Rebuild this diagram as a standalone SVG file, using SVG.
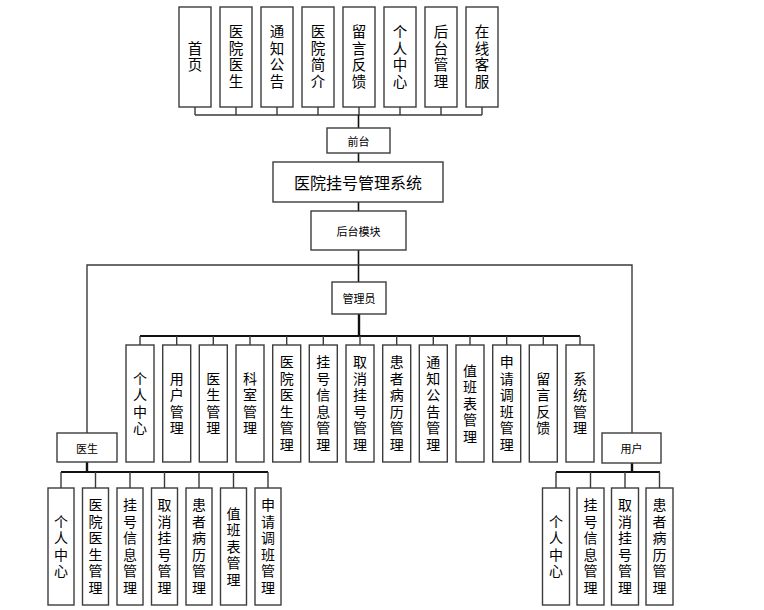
<svg xmlns="http://www.w3.org/2000/svg" width="764" height="610" viewBox="0 0 764 610">
<style>
.b{fill:#fff;stroke:#3c3c3c;stroke-width:1.4}
.c{fill:none;stroke:#3a3a3a;stroke-width:1.4}
.t{stroke:#111;stroke-width:2.4;fill:none}
text{font-family:"Noto Sans CJK SC","Noto Sans",sans-serif;fill:#000;text-anchor:middle;dominant-baseline:central}
.v,.vt{font-family:"Liberation Sans","Noto Sans CJK SC",sans-serif}
.v{font-size:14px}
.vt{font-size:14.5px}
.s{font-size:11px}
</style>
<rect width="764" height="610" fill="#fff"/>
<g id="connectors">
<path class="c" d="M195 107V115M236 107V115M277 107V115M318 107V115M359 107V115M400 107V115M441 107V115M482 107V115M195 115H482"/>
<path class="t" d="M358.5 115V128M358.5 153V162M358.5 202V211M358.5 250V282" style="stroke-width:1.6"/>
<path class="c" d="M87 433V265H632V433"/>
<path class="t" d="M359 314V336"/>
<path class="t" d="M140 336H580" style="stroke-width:2"/>
<path class="c" d="M140 336V345M176.7 336V345M213.3 336V345M250 336V345M286.7 336V345M323.3 336V345M360 336V345M396.7 336V345M433.3 336V345M470 336V345M506.7 336V345M543.3 336V345M580 336V345"/>
<path class="t" d="M87 462V472M632 463V472"/>
<path class="t" d="M61 472H268M556 472H660" style="stroke-width:2"/>
<path class="c" d="M61 472V488M95.5 472V488M130 472V488M164.5 472V488M199 472V488M233.5 472V488M268 472V488"/>
<path class="c" d="M556 472V488M590.5 472V488M625 472V488M659.5 472V488"/>
</g>
<g id="top1"><rect class="b" x="179" y="7" width="32" height="100"/><text class="vt" x="195"><tspan x="195" y="48.65">首</tspan><tspan x="195" y="65.35">页</tspan></text></g>
<g id="top2"><rect class="b" x="220" y="7" width="32" height="100"/><text class="vt"><tspan x="236" y="31.95">医</tspan><tspan x="236" y="48.65">院</tspan><tspan x="236" y="65.35">医</tspan><tspan x="236" y="82.05">生</tspan></text></g>
<g id="top3"><rect class="b" x="261" y="7" width="32" height="100"/><text class="vt"><tspan x="277" y="31.95">通</tspan><tspan x="277" y="48.65">知</tspan><tspan x="277" y="65.35">公</tspan><tspan x="277" y="82.05">告</tspan></text></g>
<g id="top4"><rect class="b" x="302" y="7" width="32" height="100"/><text class="vt"><tspan x="318" y="31.95">医</tspan><tspan x="318" y="48.65">院</tspan><tspan x="318" y="65.35">简</tspan><tspan x="318" y="82.05">介</tspan></text></g>
<g id="top5"><rect class="b" x="343" y="7" width="32" height="100"/><text class="vt"><tspan x="359" y="31.95">留</tspan><tspan x="359" y="48.65">言</tspan><tspan x="359" y="65.35">反</tspan><tspan x="359" y="82.05">馈</tspan></text></g>
<g id="top6"><rect class="b" x="384" y="7" width="32" height="100"/><text class="vt"><tspan x="400" y="31.95">个</tspan><tspan x="400" y="48.65">人</tspan><tspan x="400" y="65.35">中</tspan><tspan x="400" y="82.05">心</tspan></text></g>
<g id="top7"><rect class="b" x="425" y="7" width="32" height="100"/><text class="vt"><tspan x="441" y="31.95">后</tspan><tspan x="441" y="48.65">台</tspan><tspan x="441" y="65.35">管</tspan><tspan x="441" y="82.05">理</tspan></text></g>
<g id="top8"><rect class="b" x="466" y="7" width="32" height="100"/><text class="vt"><tspan x="482" y="31.95">在</tspan><tspan x="482" y="48.65">线</tspan><tspan x="482" y="65.35">客</tspan><tspan x="482" y="82.05">服</tspan></text></g>
<g id="qiantai"><rect class="b" x="327" y="128" width="63" height="25"/><text class="s" x="358.5" y="140.5">前台</text></g>
<g id="system"><rect class="b" x="273" y="162" width="170" height="40"/><text x="358" y="182" style="font-size:16px">医院挂号管理系统</text></g>
<g id="houtai"><rect class="b" x="311" y="211" width="95" height="39"/><text class="s" x="358.5" y="230.5">后台模块</text></g>
<g id="admin"><rect class="b" x="332" y="282" width="54" height="32"/><text class="s" x="359" y="298">管理员</text></g>
<g id="a1"><rect class="b" x="126" y="345" width="28" height="117"/><text class="v"><tspan x="140" y="378.75">个</tspan><tspan x="140" y="395.25">人</tspan><tspan x="140" y="411.75">中</tspan><tspan x="140" y="428.25">心</tspan></text></g>
<g id="a2"><rect class="b" x="162.7" y="345" width="28" height="117"/><text class="v"><tspan x="176.7" y="378.75">用</tspan><tspan x="176.7" y="395.25">户</tspan><tspan x="176.7" y="411.75">管</tspan><tspan x="176.7" y="428.25">理</tspan></text></g>
<g id="a3"><rect class="b" x="199.3" y="345" width="28" height="117"/><text class="v"><tspan x="213.3" y="378.75">医</tspan><tspan x="213.3" y="395.25">生</tspan><tspan x="213.3" y="411.75">管</tspan><tspan x="213.3" y="428.25">理</tspan></text></g>
<g id="a4"><rect class="b" x="236" y="345" width="28" height="117"/><text class="v"><tspan x="250" y="378.75">科</tspan><tspan x="250" y="395.25">室</tspan><tspan x="250" y="411.75">管</tspan><tspan x="250" y="428.25">理</tspan></text></g>
<g id="a5"><rect class="b" x="272.7" y="345" width="28" height="117"/><text class="v"><tspan x="286.7" y="362.25">医</tspan><tspan x="286.7" y="378.75">院</tspan><tspan x="286.7" y="395.25">医</tspan><tspan x="286.7" y="411.75">生</tspan><tspan x="286.7" y="428.25">管</tspan><tspan x="286.7" y="444.75">理</tspan></text></g>
<g id="a6"><rect class="b" x="309.3" y="345" width="28" height="117"/><text class="v"><tspan x="323.3" y="362.25">挂</tspan><tspan x="323.3" y="378.75">号</tspan><tspan x="323.3" y="395.25">信</tspan><tspan x="323.3" y="411.75">息</tspan><tspan x="323.3" y="428.25">管</tspan><tspan x="323.3" y="444.75">理</tspan></text></g>
<g id="a7"><rect class="b" x="346" y="345" width="28" height="117"/><text class="v"><tspan x="360" y="362.25">取</tspan><tspan x="360" y="378.75">消</tspan><tspan x="360" y="395.25">挂</tspan><tspan x="360" y="411.75">号</tspan><tspan x="360" y="428.25">管</tspan><tspan x="360" y="444.75">理</tspan></text></g>
<g id="a8"><rect class="b" x="382.7" y="345" width="28" height="117"/><text class="v"><tspan x="396.7" y="362.25">患</tspan><tspan x="396.7" y="378.75">者</tspan><tspan x="396.7" y="395.25">病</tspan><tspan x="396.7" y="411.75">历</tspan><tspan x="396.7" y="428.25">管</tspan><tspan x="396.7" y="444.75">理</tspan></text></g>
<g id="a9"><rect class="b" x="419.3" y="345" width="28" height="117"/><text class="v"><tspan x="433.3" y="362.25">通</tspan><tspan x="433.3" y="378.75">知</tspan><tspan x="433.3" y="395.25">公</tspan><tspan x="433.3" y="411.75">告</tspan><tspan x="433.3" y="428.25">管</tspan><tspan x="433.3" y="444.75">理</tspan></text></g>
<g id="a10"><rect class="b" x="456" y="345" width="28" height="117"/><text class="v"><tspan x="470" y="370.5">值</tspan><tspan x="470" y="387">班</tspan><tspan x="470" y="403.5">表</tspan><tspan x="470" y="420">管</tspan><tspan x="470" y="436.5">理</tspan></text></g>
<g id="a11"><rect class="b" x="492.7" y="345" width="28" height="117"/><text class="v"><tspan x="506.7" y="362.25">申</tspan><tspan x="506.7" y="378.75">请</tspan><tspan x="506.7" y="395.25">调</tspan><tspan x="506.7" y="411.75">班</tspan><tspan x="506.7" y="428.25">管</tspan><tspan x="506.7" y="444.75">理</tspan></text></g>
<g id="a12"><rect class="b" x="529.3" y="345" width="28" height="117"/><text class="v"><tspan x="543.3" y="378.75">留</tspan><tspan x="543.3" y="395.25">言</tspan><tspan x="543.3" y="411.75">反</tspan><tspan x="543.3" y="428.25">馈</tspan></text></g>
<g id="a13"><rect class="b" x="566" y="345" width="28" height="117"/><text class="v"><tspan x="580" y="378.75">系</tspan><tspan x="580" y="395.25">统</tspan><tspan x="580" y="411.75">管</tspan><tspan x="580" y="428.25">理</tspan></text></g>
<g id="doctor"><rect class="b" x="57" y="433" width="60" height="29"/><text class="s" x="87" y="447.5">医生</text></g>
<g id="d1"><rect class="b" x="48" y="488" width="26" height="117"/><text class="v"><tspan x="61" y="521.75">个</tspan><tspan x="61" y="538.25">人</tspan><tspan x="61" y="554.75">中</tspan><tspan x="61" y="571.25">心</tspan></text></g>
<g id="d2"><rect class="b" x="82.5" y="488" width="26" height="117"/><text class="v"><tspan x="95.5" y="505.25">医</tspan><tspan x="95.5" y="521.75">院</tspan><tspan x="95.5" y="538.25">医</tspan><tspan x="95.5" y="554.75">生</tspan><tspan x="95.5" y="571.25">管</tspan><tspan x="95.5" y="587.75">理</tspan></text></g>
<g id="d3"><rect class="b" x="117" y="488" width="26" height="117"/><text class="v"><tspan x="130" y="505.25">挂</tspan><tspan x="130" y="521.75">号</tspan><tspan x="130" y="538.25">信</tspan><tspan x="130" y="554.75">息</tspan><tspan x="130" y="571.25">管</tspan><tspan x="130" y="587.75">理</tspan></text></g>
<g id="d4"><rect class="b" x="151.5" y="488" width="26" height="117"/><text class="v"><tspan x="164.5" y="505.25">取</tspan><tspan x="164.5" y="521.75">消</tspan><tspan x="164.5" y="538.25">挂</tspan><tspan x="164.5" y="554.75">号</tspan><tspan x="164.5" y="571.25">管</tspan><tspan x="164.5" y="587.75">理</tspan></text></g>
<g id="d5"><rect class="b" x="186" y="488" width="26" height="117"/><text class="v"><tspan x="199" y="505.25">患</tspan><tspan x="199" y="521.75">者</tspan><tspan x="199" y="538.25">病</tspan><tspan x="199" y="554.75">历</tspan><tspan x="199" y="571.25">管</tspan><tspan x="199" y="587.75">理</tspan></text></g>
<g id="d6"><rect class="b" x="220.5" y="488" width="26" height="117"/><text class="v"><tspan x="233.5" y="513.5">值</tspan><tspan x="233.5" y="530">班</tspan><tspan x="233.5" y="546.5">表</tspan><tspan x="233.5" y="563">管</tspan><tspan x="233.5" y="579.5">理</tspan></text></g>
<g id="d7"><rect class="b" x="255" y="488" width="26" height="117"/><text class="v"><tspan x="268" y="505.25">申</tspan><tspan x="268" y="521.75">请</tspan><tspan x="268" y="538.25">调</tspan><tspan x="268" y="554.75">班</tspan><tspan x="268" y="571.25">管</tspan><tspan x="268" y="587.75">理</tspan></text></g>
<g id="user"><rect class="b" x="602" y="433" width="59" height="30"/><text class="s" x="631.5" y="448">用户</text></g>
<g id="u1"><rect class="b" x="542.5" y="488" width="27" height="117"/><text class="v"><tspan x="556" y="521.75">个</tspan><tspan x="556" y="538.25">人</tspan><tspan x="556" y="554.75">中</tspan><tspan x="556" y="571.25">心</tspan></text></g>
<g id="u2"><rect class="b" x="577" y="488" width="27" height="117"/><text class="v"><tspan x="590.5" y="505.25">挂</tspan><tspan x="590.5" y="521.75">号</tspan><tspan x="590.5" y="538.25">信</tspan><tspan x="590.5" y="554.75">息</tspan><tspan x="590.5" y="571.25">管</tspan><tspan x="590.5" y="587.75">理</tspan></text></g>
<g id="u3"><rect class="b" x="611.5" y="488" width="27" height="117"/><text class="v"><tspan x="625" y="505.25">取</tspan><tspan x="625" y="521.75">消</tspan><tspan x="625" y="538.25">挂</tspan><tspan x="625" y="554.75">号</tspan><tspan x="625" y="571.25">管</tspan><tspan x="625" y="587.75">理</tspan></text></g>
<g id="u4"><rect class="b" x="646" y="488" width="27" height="117"/><text class="v"><tspan x="659.5" y="505.25">患</tspan><tspan x="659.5" y="521.75">者</tspan><tspan x="659.5" y="538.25">病</tspan><tspan x="659.5" y="554.75">历</tspan><tspan x="659.5" y="571.25">管</tspan><tspan x="659.5" y="587.75">理</tspan></text></g>
</svg>
